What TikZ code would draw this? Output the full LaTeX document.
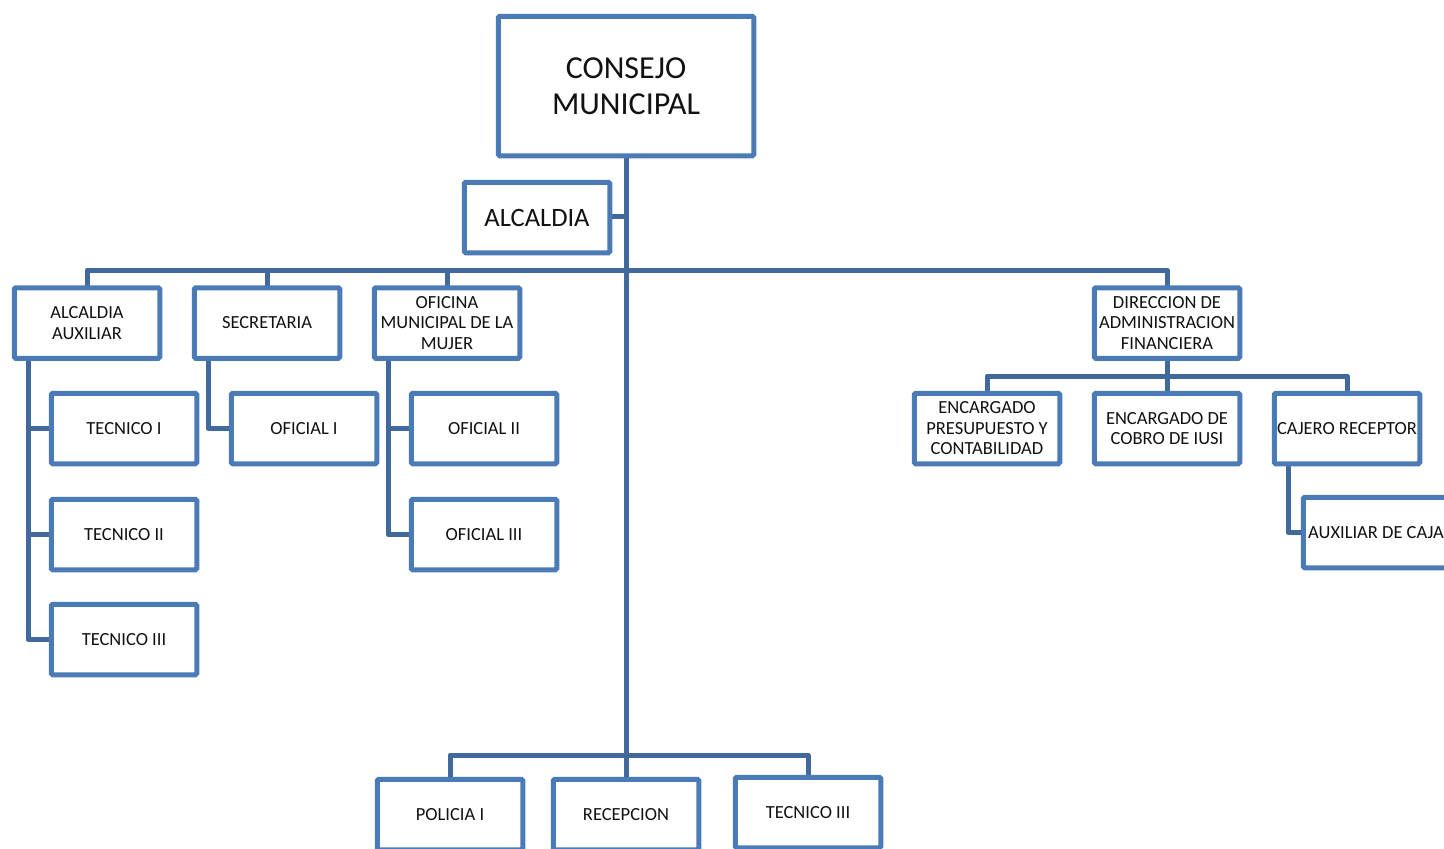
\documentclass[tikz,border=0pt]{standalone}
\usepackage{fontspec}
\setmainfont{Carlito}
\definecolor{boxc}{HTML}{4A7BB7}
\definecolor{linec}{HTML}{41699C}
\definecolor{txt}{HTML}{111111}
\begin{document}
\begin{tikzpicture}[x=1pt,y=-1pt,
  box/.style={draw=boxc, line width=5pt, rounded corners=1.5pt, fill=white, inner sep=0pt,
    minimum width=145.5pt, minimum height=70.5pt, align=center, text=txt,
    font=\fontsize{18.5}{20.5}\selectfont},
  conn/.style={draw=linec, line width=5pt, line join=round}]
\useasboundingbox (0,0) rectangle (1444,849);
\clip (0,0) rectangle (1444,849);
\coordinate (bus) at (626,270);
\coordinate (fbus) at (1167,376);
\coordinate (bbus) at (626,755);
% connectors first (nodes drawn on top)
\path[conn] (626,158) -- (626,777);
\path[conn] (612,216) -- (626,216);
\path[conn] (87,286) |- (bus) -| (1167,286);
\path[conn] (267,286) -- (267,270);
\path[conn] (447,286) -- (447,270);
\path[conn] (28,360) |- (49,639.5);
\path[conn] (28,428.5) -- (49,428.5);
\path[conn] (28,534.5) -- (49,534.5);
\path[conn] (208,360) |- (229,428.5);
\path[conn] (388,360) |- (409,534.5);
\path[conn] (388,428.5) -- (409,428.5);
\path[conn] (1167,360) -- (1167,391);
\path[conn] (987,391) |- (fbus) -| (1347,391);
\path[conn] (1288,466) |- (1301,532.5);
\path[conn] (450,777) |- (bbus) -| (808,775);
% nodes
\node[box, minimum width=255.5pt, minimum height=139.5pt, font=\fontsize{32}{36}\selectfont] (cm) at (626,86) {CONSEJO\\MUNICIPAL};
\node[box, font=\fontsize{26.5}{30}\selectfont] (alc) at (537,217.5) {ALCALDIA};
\node[box] (aa) at (87,323) {ALCALDIA\\AUXILIAR};
\node[box] (sec) at (267,323) {SECRETARIA};
\node[box] (ofm) at (447,323) {OFICINA\\MUNICIPAL DE LA\\MUJER};
\node[box] (daf) at (1167,323) {DIRECCION DE\\ADMINISTRACION\\FINANCIERA};
\node[box] (t1) at (124,428.5) {TECNICO I};
\node[box] (t2) at (124,534.5) {TECNICO II};
\node[box] (t3) at (124,639.5) {TECNICO III};
\node[box] (of1) at (304,428.5) {OFICIAL I};
\node[box] (of2) at (484,428.5) {OFICIAL II};
\node[box] (of3) at (484,534.5) {OFICIAL III};
\node[box] (epc) at (987,428.5) {ENCARGADO\\PRESUPUESTO Y\\CONTABILIDAD};
\node[box] (cob) at (1167,428.5) {ENCARGADO DE\\COBRO DE IUSI};
\node[box] (caj) at (1347,428.5) {CAJERO RECEPTOR};
\node[box] (aux) at (1376,532.5) {AUXILIAR DE CAJA};
\node[box] (pol) at (450,814.5) {POLICIA I};
\node[box] (rec) at (626,814.5) {RECEPCION};
\node[box] (tb3) at (808,812.5) {TECNICO III};
\end{tikzpicture}
\end{document}
